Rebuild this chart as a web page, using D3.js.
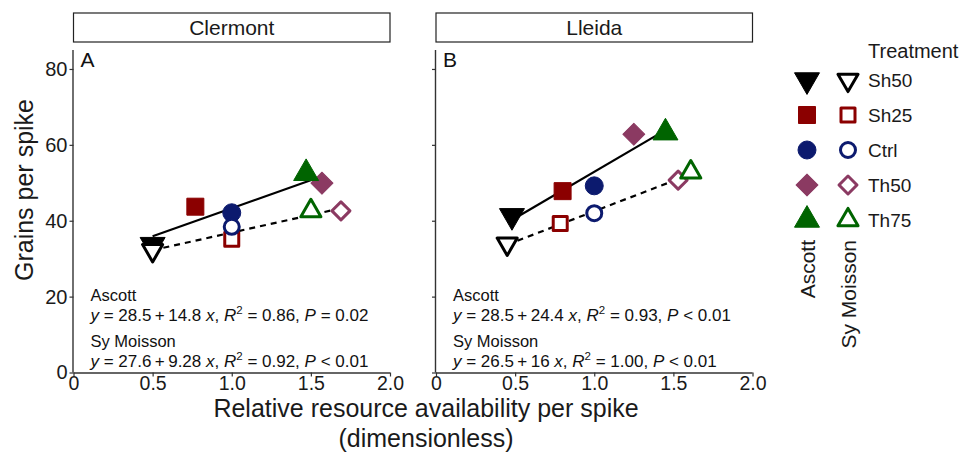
<!DOCTYPE html>
<html>
<head>
<meta charset="utf-8">
<script src="https://cdn.jsdelivr.net/npm/d3@7"></script>
<style>
  html, body { margin: 0; padding: 0; background: #fff; }
  svg { display: block; font-family: "Liberation Sans", Arial, sans-serif; }
</style>
</head>
<body>
<svg id="chart" width="971" height="460"></svg>
<script>
// ---- data ----
const sites = ["Clermont", "Lleida"];
const panelTags = ["A", "B"];
const cultivars = ["Ascott", "Sy Moisson"];
const treatments = ["Sh50", "Sh25", "Ctrl", "Th50", "Th75"];
const treatmentColors = ["#000000", "#8B0000", "#0C1A6E", "#8B3A62", "#006400"];
const xTicks = [0, 0.5, 1.0, 1.5, 2.0];
const xTickLabels = ["0", "0.5", "1.0", "1.5", "2.0"];
const yTicks = [0, 20, 40, 60, 80];

// resource availability (x) and grains per spike (y), ordered as treatments
const clermontAscottX  = [0.50, 0.77, 1.00, 1.57, 1.47];
const clermontAscottY  = [33.7, 43.7, 42.1, 49.9, 52.5];
const clermontMoissonX = [0.50, 1.00, 1.00, 1.69, 1.50];
const clermontMoissonY = [32.2, 35.1, 38.4, 42.6, 42.6];
const lleidaAscottX    = [0.48, 0.80, 1.00, 1.25, 1.45];
const lleidaAscottY    = [41.3, 47.8, 49.2, 62.8, 63.2];
const lleidaMoissonX   = [0.45, 0.785, 1.00, 1.53, 1.61];
const lleidaMoissonY   = [33.9, 39.3, 42.0, 50.7, 52.8];

// linear fits per site: [Ascott, Sy Moisson]
const clermontIntercepts = [28.5, 27.6];
const clermontSlopes     = [14.8, 9.28];
const clermontR2         = ["0.86", "0.92"];
const clermontP          = ["= 0.02", "< 0.01"];
const lleidaIntercepts   = [28.5, 26.5];
const lleidaSlopes       = [24.4, 16];
const lleidaR2           = ["0.93", "1.00"];
const lleidaP            = ["< 0.01", "< 0.01"];

const panels = [
  { site: sites[0], tag: panelTags[0],
    xs: [clermontAscottX, clermontMoissonX], ys: [clermontAscottY, clermontMoissonY],
    a: clermontIntercepts, b: clermontSlopes, r2: clermontR2, p: clermontP },
  { site: sites[1], tag: panelTags[1],
    xs: [lleidaAscottX, lleidaMoissonX], ys: [lleidaAscottY, lleidaMoissonY],
    a: lleidaIntercepts, b: lleidaSlopes, r2: lleidaR2, p: lleidaP }
];

// ---- layout ----
const svg = d3.select("#chart");
const panelLefts = [73.5, 436];
const panelWidth = 316.5;
const plotTop = 50, plotBottom = 372.5;
const stripTop = 13, stripBottom = 42;
const axisColor = "#333333";

const y = d3.scaleLinear().domain([0, 85]).range([plotBottom, plotTop]);

// shape per treatment: [symbol, rotation, filled size, open size]
const shapeSpec = [
  [d3.symbolTriangle, 180, 270, 175],
  [d3.symbolSquare,   0,   289, 196],
  [d3.symbolCircle,   0,   254, 177],
  [d3.symbolSquare,   45,  242, 162],
  [d3.symbolTriangle, 0,   270, 175]
];
function drawPoint(g, cx, cy, ti, filled) {
  const [sym, rot, sFill, sOpen] = shapeSpec[ti];
  const col = treatmentColors[ti];
  g.append("path")
    .attr("d", d3.symbol().type(sym).size(filled ? sFill : sOpen)())
    .attr("transform", `translate(${cx},${cy}) rotate(${rot})`)
    .attr("fill", filled ? col : "#fff")
    .attr("stroke", col)
    .attr("stroke-width", filled ? 1 : 3)
    .attr("stroke-linejoin", "round");
}

panels.forEach((pn, pi) => {
  const left = panelLefts[pi];
  const x = d3.scaleLinear().domain([0, 2]).range([left, left + panelWidth]);
  const g = svg.append("g");

  // strip
  g.append("rect")
    .attr("x", left).attr("y", stripTop)
    .attr("width", panelWidth).attr("height", stripBottom - stripTop)
    .attr("fill", "#fff").attr("stroke", "#222").attr("stroke-width", 1.2);
  g.append("text")
    .attr("x", left + panelWidth / 2).attr("y", (stripTop + stripBottom) / 2 + 7.5)
    .attr("text-anchor", "middle").attr("font-size", 21).attr("fill", "#1a1a1a")
    .text(pn.site);

  // axes
  const xAxis = d3.axisBottom(x).tickValues(xTicks)
    .tickFormat((d, i) => xTickLabels[i]).tickSize(4).tickPadding(0);
  const gx = g.append("g").attr("transform", `translate(0,${plotBottom})`).call(xAxis);
  gx.select(".domain").attr("stroke", axisColor).attr("stroke-width", 1.4)
    .attr("d", `M${left},0.5H${left + panelWidth}`);
  gx.selectAll(".tick line").attr("stroke", axisColor).attr("stroke-width", 1.2);
  gx.selectAll(".tick text").attr("font-size", 19.5).attr("fill", "#1a1a1a")
    .attr("font-family", "Liberation Sans, Arial, sans-serif");

  const yAxis = d3.axisLeft(y).tickValues(yTicks)
    .tickFormat(pi === 0 ? d3.format("d") : () => "").tickSize(4).tickPadding(2);
  const gy = g.append("g").attr("transform", `translate(${left},0)`).call(yAxis);
  gy.select(".domain").attr("stroke", axisColor).attr("stroke-width", 1.4)
    .attr("d", `M-0.5,${plotTop}V${plotBottom}`);
  gy.selectAll(".tick line").attr("stroke", axisColor).attr("stroke-width", 1.2);
  gy.selectAll(".tick text").attr("font-size", 20).attr("fill", "#1a1a1a")
    .attr("font-family", "Liberation Sans, Arial, sans-serif");

  // panel tag
  g.append("text").attr("x", left + 7).attr("y", plotTop + 17)
    .attr("font-size", 21).attr("fill", "#111").text(pn.tag);

  // regression lines (from the fitted equations, over the observed x range)
  [0, 1].forEach(ci => {
    const xs = pn.xs[ci];
    const x0 = d3.min(xs), x1 = d3.max(xs);
    g.append("line")
      .attr("x1", x(x0)).attr("y1", y(pn.a[ci] + pn.b[ci] * x0))
      .attr("x2", x(x1)).attr("y2", y(pn.a[ci] + pn.b[ci] * x1))
      .attr("stroke", "#000").attr("stroke-width", 2.2)
      .attr("stroke-dasharray", ci === 1 ? "6,5" : null);
  });

  // points: Ascott filled, Sy Moisson open on top
  [0, 1].forEach(ci => {
    treatments.forEach((t, ti) => {
      drawPoint(g, x(pn.xs[ci][ti]), y(pn.ys[ci][ti]), ti, ci === 0);
    });
  });

  // equation annotations
  const tx = left + 17;
  const baselines = [[300.5, 320.5], [347, 367]];
  [0, 1].forEach(ci => {
    g.append("text").attr("x", tx).attr("y", baselines[ci][0])
      .attr("font-size", 16.5).attr("fill", "#111").text(cultivars[ci]);
    const eq = g.append("text").attr("x", tx).attr("y", baselines[ci][1])
      .attr("font-size", 17).attr("fill", "#111");
    eq.append("tspan").attr("font-style", "italic").text("y");
    eq.append("tspan").text(` = ${pn.a[ci]}\u2009+\u2009${pn.b[ci]} `);
    eq.append("tspan").attr("font-style", "italic").text("x");
    eq.append("tspan").text(", ");
    eq.append("tspan").attr("font-style", "italic").text("R");
    eq.append("tspan").attr("font-size", 11.5).attr("dy", -7).text("2");
    eq.append("tspan").attr("dy", 7).text(` = ${pn.r2[ci]}, `);
    eq.append("tspan").attr("font-style", "italic").text("P");
    eq.append("tspan").text(` ${pn.p[ci]}`);
  });
});

// axis titles
svg.append("text")
  .attr("transform", "translate(33,190) rotate(-90)")
  .attr("text-anchor", "middle").attr("font-size", 25).attr("fill", "#1a1a1a")
  .text("Grains per spike");
svg.append("text").attr("x", 426).attr("y", 417)
  .attr("text-anchor", "middle").attr("font-size", 25).attr("fill", "#1a1a1a")
  .text("Relative resource availability per spike");
svg.append("text").attr("x", 426).attr("y", 447)
  .attr("text-anchor", "middle").attr("font-size", 25).attr("fill", "#1a1a1a")
  .text("(dimensionless)");

// legend
const legend = svg.append("g");
const legColX = [807, 848];
const legRowY = [80, 115, 150, 185, 220];
legend.append("text").attr("x", 868).attr("y", 58)
  .attr("font-size", 20).attr("fill", "#1a1a1a").text("Treatment");
treatments.forEach((t, ti) => {
  drawPoint(legend, legColX[0], legRowY[ti], ti, true);
  drawPoint(legend, legColX[1], legRowY[ti], ti, false);
  legend.append("text").attr("x", 868).attr("y", legRowY[ti] + 7)
    .attr("font-size", 19).attr("fill", "#1a1a1a").text(t);
});
cultivars.forEach((c, ci) => {
  legend.append("text")
    .attr("transform", `translate(${legColX[ci] + 8},240) rotate(-90)`)
    .attr("text-anchor", "end").attr("font-size", 21).attr("fill", "#1a1a1a")
    .text(c);
});
</script>
</body>
</html>
